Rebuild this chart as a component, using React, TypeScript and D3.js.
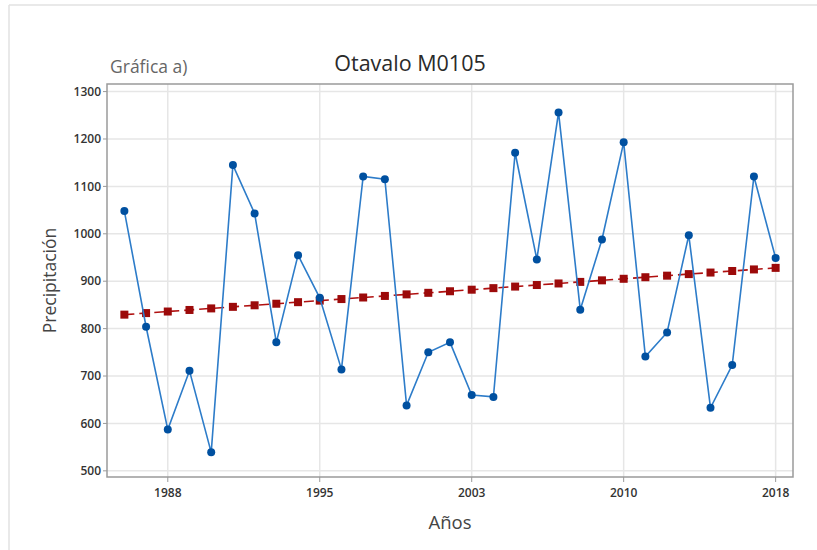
// App.tsx - Otavalo M0105 trend chart
import React from 'react';
import * as d3 from 'd3';

// annual precipitation, one value per observation (index 0..30)
const precip = [
  1048, 804, 587, 711, 539, 1145, 1043, 771, 955, 865, 714, 1121, 1115, 638, 750, 771,
  660, 656, 1171, 946, 1256, 840, 988, 1193, 741, 792, 997, 633, 723, 1121, 949,
];
const xTickIndex = [2, 9, 16, 23, 30];
const xTickLabels = ['1988', '1995', '2003', '2010', '2018'];
const yTicks = [500, 600, 700, 800, 900, 1000, 1100, 1200, 1300];

// least-squares trend fitted to the series (as Minitab does)
const fitTrend = (ys: number[]) => {
  const xs = ys.map((_, i) => i);
  const mx = d3.mean(xs) as number;
  const my = d3.mean(ys) as number;
  let sxy = 0;
  let sxx = 0;
  xs.forEach((x, i) => {
    sxy += (x - mx) * (ys[i] - my);
    sxx += (x - mx) * (x - mx);
  });
  const b = sxy / sxx;
  const a = my - b * mx;
  return xs.map((x) => a + b * x);
};

const FONT = "'Open Sans', 'Noto Sans', sans-serif";

const App = () => {
  const width = 817;
  const height = 550;
  const left = 107;
  const right = 793;
  const top = 84;
  const bottom = 477;

  const x = d3.scaleLinear().domain([-0.8, 30.8]).range([left, right]);
  const y = d3.scaleLinear().domain([487, 1316]).range([bottom, top]);

  const trend = fitTrend(precip);

  const dataLine = d3
    .line<number>()
    .x((_, i) => x(i))
    .y((d) => y(d));

  return (
    <svg
      width={width}
      height={height}
      style={{ position: 'absolute', left: 0, top: 0, background: '#fff' }}
      fontFamily={FONT}
    >
      {/* outer picture border */}
      <line x1={9} x2={817} y1={5} y2={5} stroke="#e2e2e2" strokeWidth={1.5} />
      <line x1={9} x2={9} y1={5} y2={550} stroke="#e2e2e2" strokeWidth={1.5} />

      {/* gridlines */}
      {yTicks.map((t) => (
        <line key={'gy' + t} x1={left} x2={right} y1={y(t)} y2={y(t)} stroke="#e6e6e6" strokeWidth={1.5} />
      ))}
      {xTickIndex.map((t) => (
        <line key={'gx' + t} x1={x(t)} x2={x(t)} y1={top} y2={bottom} stroke="#e6e6e6" strokeWidth={1.5} />
      ))}

      {/* frame */}
      <rect x={left} y={top} width={right - left} height={bottom - top} fill="none" stroke="#9a9a9a" strokeWidth={1.5} />

      {/* y axis ticks */}
      {yTicks.map((t) => (
        <g key={'ty' + t}>
          <line x1={left - 4} x2={left} y1={y(t)} y2={y(t)} stroke="#9a9a9a" />
          <text x={left - 6} y={y(t)} dy="0.35em" textAnchor="end" fontSize={12} fontWeight={600} fill="#333">
            {t}
          </text>
        </g>
      ))}

      {/* x axis ticks */}
      {xTickIndex.map((t, i) => (
        <g key={'tx' + t}>
          <line x1={x(t)} x2={x(t)} y1={bottom} y2={bottom + 5} stroke="#9a9a9a" />
          <text x={x(t)} y={bottom + 16} dy="0.35em" textAnchor="middle" fontSize={12} fontWeight={600} fill="#333">
            {xTickLabels[i]}
          </text>
        </g>
      ))}

      {/* trend line */}
      <path d={dataLine(trend) || ''} fill="none" stroke="#b01010" strokeWidth={1.6} strokeDasharray="10,5" />
      {trend.map((d, i) => (
        <rect key={'tr' + i} x={x(i) - 4} y={y(d) - 4} width={8} height={8} fill="#9c0a0a" />
      ))}

      {/* data line */}
      <path d={dataLine(precip) || ''} fill="none" stroke="#2d7cc9" strokeWidth={1.6} />
      {precip.map((d, i) => (
        <circle key={'p' + i} cx={x(i)} cy={y(d)} r={4} fill="#0050a0" />
      ))}

      {/* titles */}
      <text x={410} y={63} dy="0.35em" textAnchor="middle" fontSize={21.5} fontWeight={500} fill="#2a2a2a">
        Otavalo M0105
      </text>
      <text x={110} y={67} dy="0.35em" textAnchor="start" fontSize={17.5} fill="#666">
        Gráfica a)
      </text>
      <text
        transform={`translate(50,${(top + bottom) / 2}) rotate(-90)`}
        dy="0.35em"
        textAnchor="middle"
        fontSize={17.5}
        fill="#444"
      >
        Precipitación
      </text>
      <text x={450} y={523} dy="0.35em" textAnchor="middle" fontSize={18.5} fill="#444">
        Años
      </text>
    </svg>
  );
};

export default App;
